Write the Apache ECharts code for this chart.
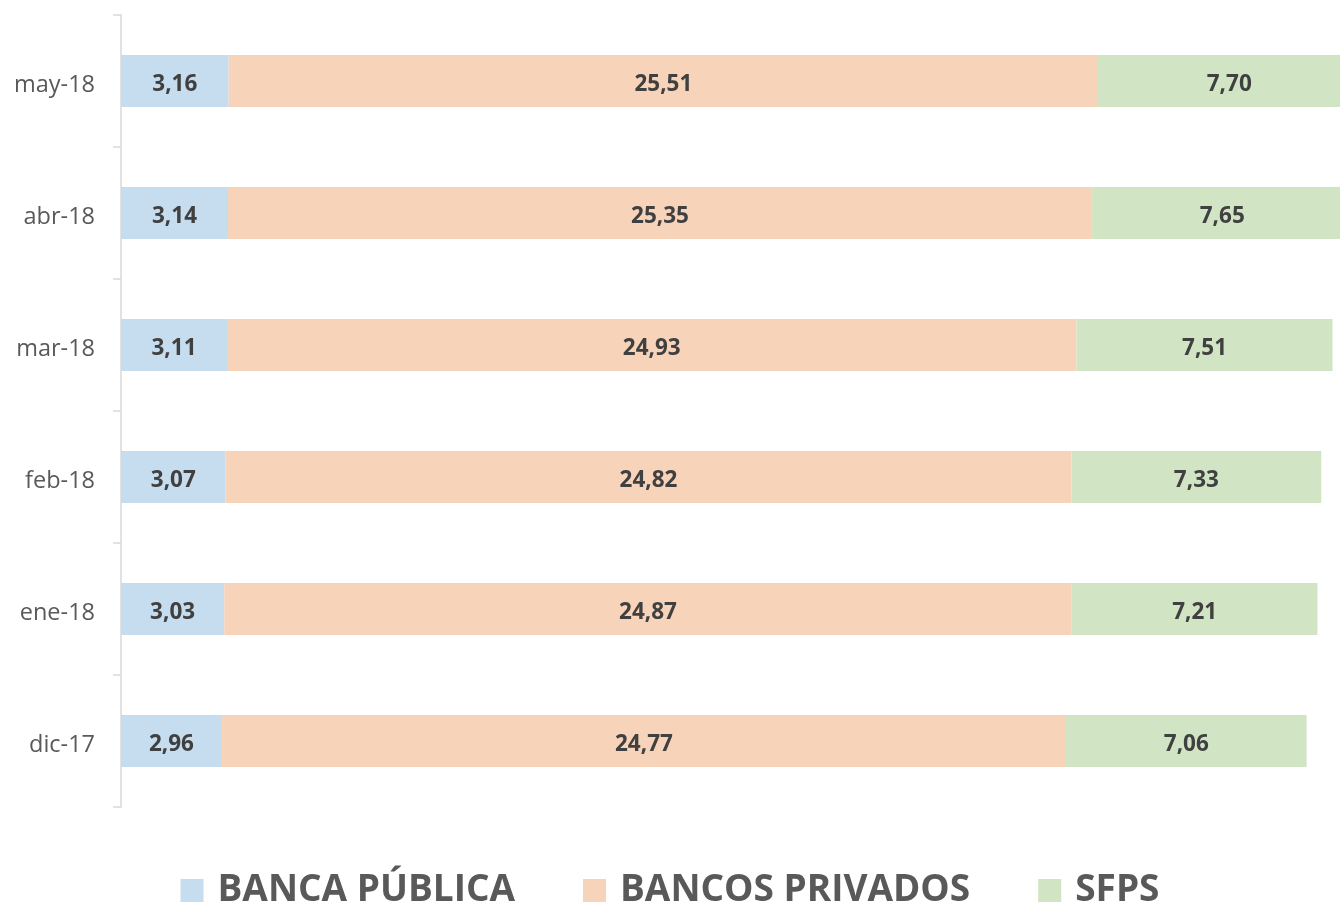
<!DOCTYPE html>
<html>

<head>
    <meta charset="utf-8">
    <script src="https://cdn.jsdelivr.net/npm/echarts@6/dist/echarts.min.js"></script>
</head>
<style type="text/css">
    body {
        margin: 0;
    }

    #chart {
        width: 1340px;
        height: 906px;
    }
</style>

<body>
    <div id="chart"></div>
</body>

</html>

<script type="text/javascript">
    let months = ['dic-17', 'ene-18', 'feb-18', 'mar-18', 'abr-18', 'may-18']
    let bancaPublica = [2.96, 3.03, 3.07, 3.11, 3.14, 3.16]
    let bancosPrivados = [24.77, 24.87, 24.82, 24.93, 25.35, 25.51]
    let sfps = [7.06, 7.21, 7.33, 7.51, 7.65, 7.70]

    let colors = ['#c6ddf0', '#f7d3ba', '#d1e5c4']
    let fontName = '"Open Sans", sans-serif'

    function makeSeries(name, data, color) {
        return {
            name: name,
            type: 'bar',
            stack: 'total',
            barWidth: 52,
            clip: false,
            itemStyle: { color: color },
            label: {
                show: true,
                position: 'inside',
                fontFamily: fontName,
                fontWeight: 'bold',
                fontSize: 22.5,
                color: '#404040',
                offset: [0, 4],
                formatter: p => p.value.toFixed(2).replace('.', ',')
            },
            data: data
        }
    }

    let myChart = echarts.init(document.getElementById('chart'))

    // bars run past the right edge in the original, so the axis ends inside the frame
    let option = {
        animation: false,
        backgroundColor: '#ffffff',
        grid: {
            left: 121,
            right: 0,
            top: 15,
            bottom: 99
        },
        xAxis: {
            type: 'value',
            min: 0,
            max: 35.77,
            show: false
        },
        yAxis: {
            type: 'category',
            data: months,
            axisLine: { lineStyle: { color: '#d9d9d9', width: 1.5 } },
            axisTick: { show: true, length: 8, lineStyle: { color: '#d9d9d9', width: 1.5 } },
            axisLabel: {
                margin: 26,
                formatter: '{m|{value}}',
                rich: {
                    m: {
                        fontFamily: fontName,
                        fontSize: 23.5,
                        color: '#595959',
                        padding: [9, 0, 0, 0]
                    }
                }
            }
        },
        legend: {
            left: 'center',
            top: 867,
            itemWidth: 23,
            itemHeight: 23,
            itemGap: 68,
            icon: 'rect',
            textStyle: {
                fontFamily: fontName,
                fontWeight: 'bold',
                fontSize: 37,
                color: '#595959',
                padding: [0, 0, 0, 9]
            },
            data: ['BANCA PÚBLICA', 'BANCOS PRIVADOS', 'SFPS']
        },
        series: [
            makeSeries('BANCA PÚBLICA', bancaPublica, colors[0]),
            makeSeries('BANCOS PRIVADOS', bancosPrivados, colors[1]),
            makeSeries('SFPS', sfps, colors[2])
        ]
    }

    myChart.setOption(option)
</script>
